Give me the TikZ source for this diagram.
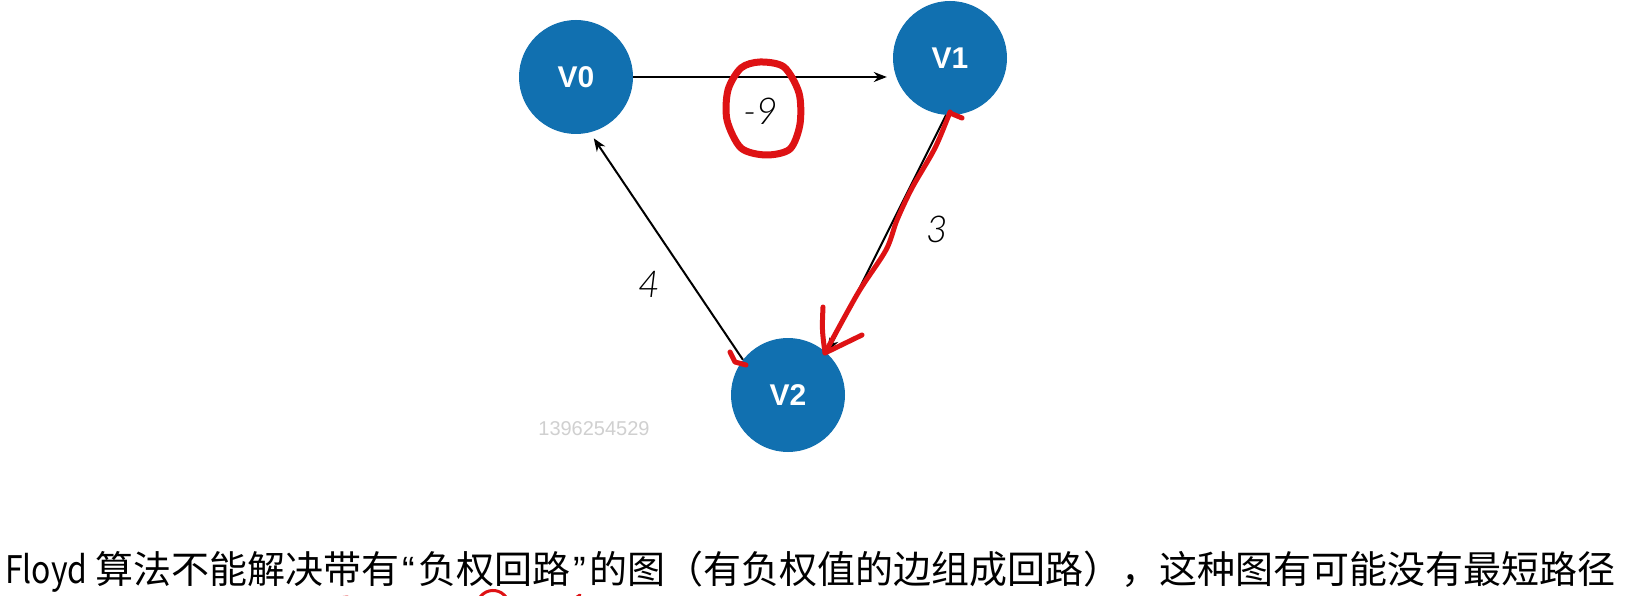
\documentclass[tikz,border=0pt]{standalone}
\usepackage{fontspec}
\setmainfont{Liberation Sans}
\newfontfamily\cjk{Noto Sans CJK SC}
\newfontfamily\lightit{Lato Light Italic}
\usetikzlibrary{arrows.meta}
\definecolor{nodeblue}{RGB}{17,112,176}
\definecolor{penred}{RGB}{222,18,20}
\definecolor{wmgray}{RGB}{208,208,208}
\newcommand{\hq}[1]{\makebox[0.5em]{\rmfamily #1}}
\begin{document}
\begin{tikzpicture}[x=1pt,y=-1pt,
  vertex/.style={circle,fill=nodeblue,minimum size=114pt,inner sep=0pt,text=white,font=\fontsize{30}{30}\selectfont\bfseries},
  edge/.style={line width=2pt,-{Stealth[length=13pt,width=10pt]}},
  weight/.style={font=\fontsize{37}{37}\selectfont\lightit,inner sep=0pt},
  pen/.style={penred,line width=5pt,line cap=round,line join=round}]
\useasboundingbox[fill=white] (0,0) rectangle (1626,596);
% vertices
\node[vertex] (V0) at (576,77) {V0};
\node[vertex] (V1) at (950,58) {V1};
\node[vertex] (V2) at (788,395) {V2};
% edges
\draw[edge,shorten >=6pt] (V0.east) -- (V0.east -| V1.west);
\draw[edge,shorten >=7pt] (V2.142) -- (V0.-76);
\draw[edge,shorten >=2pt] (V1.-94) -- (V2.47);
% weights
\node[weight] (w01) at (761,111) {-9};
\node[weight] (w12) at (937,229) {3};
\node[weight] (w20) at (649,284) {4};
% watermark
\node[font=\fontsize{20}{20}\selectfont,text=wmgray,inner sep=0pt] (wm) at (594,429) {1396254529};
% caption
\node[anchor=base west,inner sep=0pt,font=\fontsize{38}{38}\selectfont\cjk] (cap) at (5,583)
  {\scalebox{0.84}[1]{Floyd}\hspace{0.22em}算法不能解决带有\hq{“}负权回路\hq{”}的图（有负权值的边组成回路），这种图有可能没有最短路径};
% red pen annotations
\draw[pen,line width=7pt] plot[smooth cycle] coordinates {(760,62) (784,67) (799,93) (800,124) (790,149) (766,155) (741,148) (727,120) (728,90) (741,68)};
\draw[pen] plot[smooth] coordinates {(950,112) (935,148) (912,188) (897,220) (886,250) (858,293) (825,353)};
\draw[pen] (950,113) -- (962,118);
\draw[pen] (823,307) .. controls (822,330) .. (825,353) -- (862,335);
\draw[pen] (730,352) -- (735,362) -- (746,365);
\draw[pen,line width=3pt] (478,601) arc[start angle=200,end angle=340,radius=16];
\draw[pen,line width=3pt] (338,598) -- (348,597);
\draw[pen,line width=3pt] (574,599) -- (580,595);
\end{tikzpicture}
\end{document}
